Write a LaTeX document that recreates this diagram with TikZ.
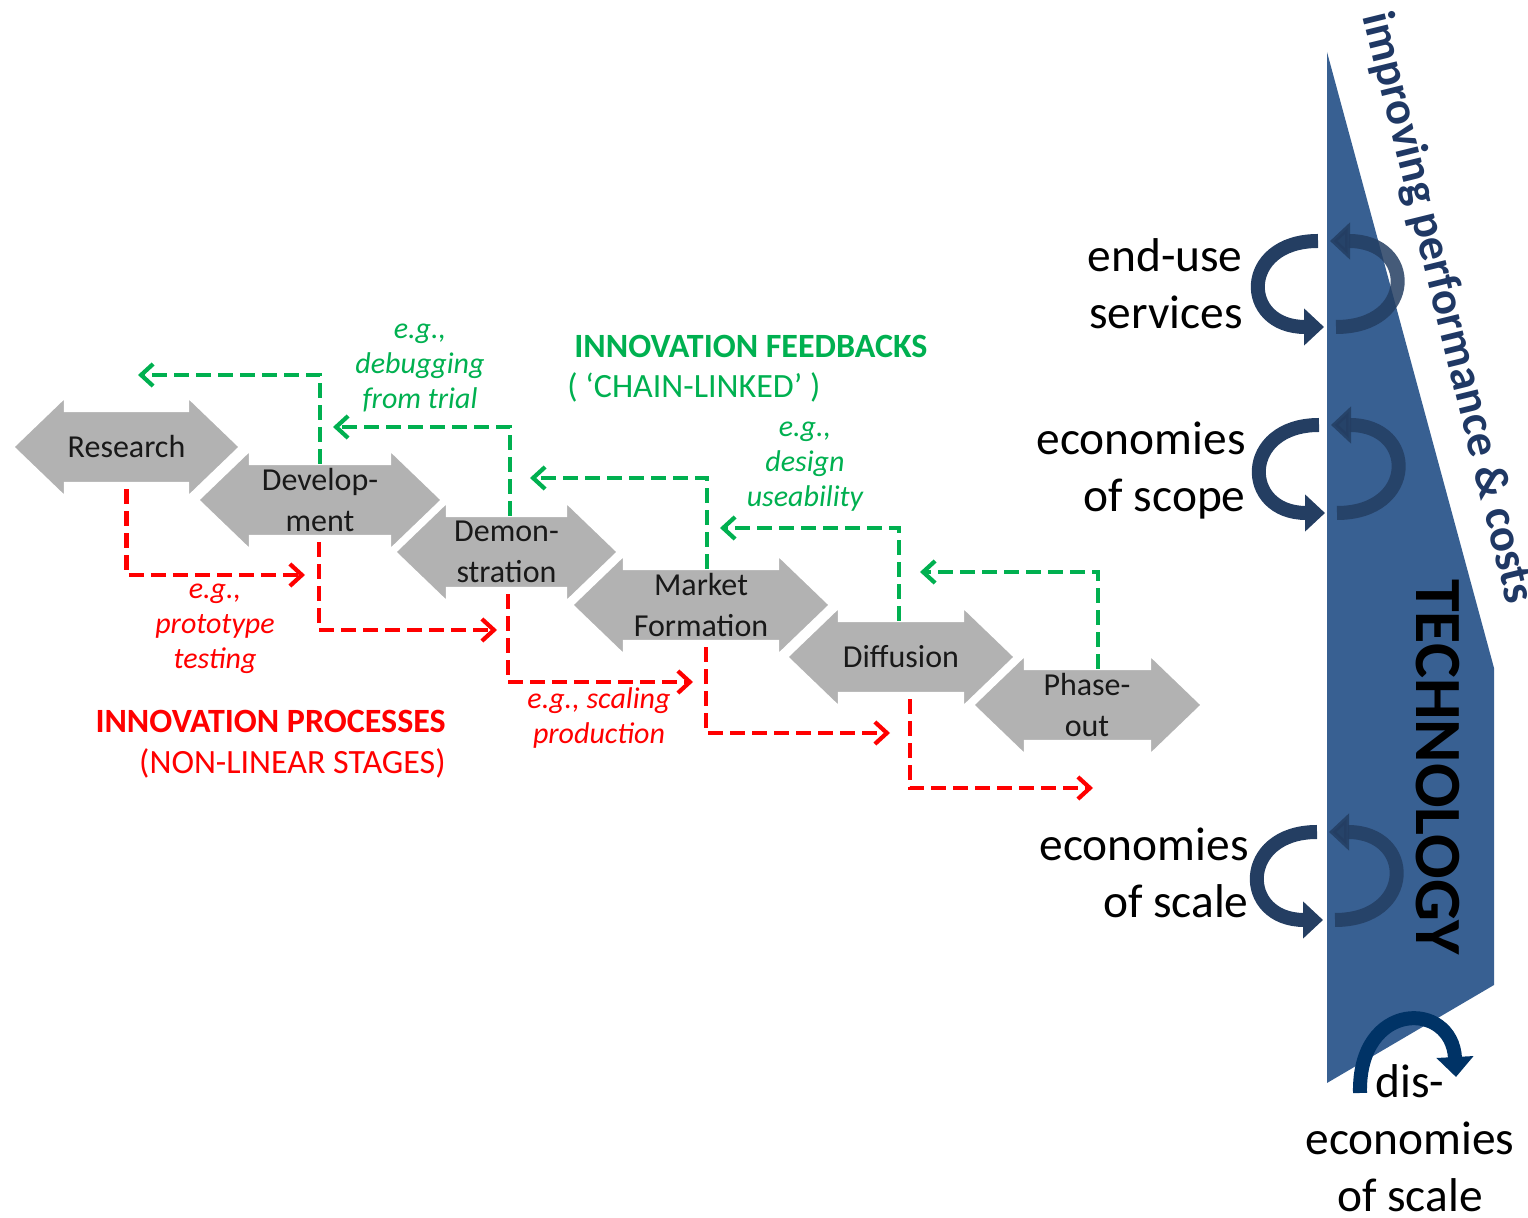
\documentclass[tikz,border=0pt]{standalone}
\usepackage{fontspec}
\setmainfont{Carlito}
\usetikzlibrary{arrows.meta}
\definecolor{stagegrey}{RGB}{178,178,178}
\definecolor{fbgreen}{RGB}{0,176,80}
\definecolor{prred}{RGB}{255,0,0}
\definecolor{techblue}{RGB}{56,96,146}
\definecolor{loopnavy}{RGB}{36,62,98}
\definecolor{disnavy}{RGB}{0,51,102}
\definecolor{impblue}{RGB}{31,56,100}
\newcommand{\stageshape}[3]{%
  \fill[stagegrey, draw=white, line width=1.2pt]
    (#1,#3) -- ({#1+52},{#3-50}) -- ({#1+52},{#3-36}) -- ({#2-52},{#3-36})
    -- ({#2-52},{#3-50}) -- (#2,#3) -- ({#2-52},{#3+50}) -- ({#2-52},{#3+36})
    -- ({#1+52},{#3+36}) -- ({#1+52},{#3+50}) -- cycle;}
\newcommand{\looppair}[3]{%
  \draw[loopribbon] ({#1-9},{#2-#3}) .. controls ({#1-87},{#2-#3}) and ({#1-87},{#2+#3}) .. ({#1-3},{#2+#3});
  \draw[loopribbon, opacity=0.85] ({#1+9},{#2+#3}) .. controls ({#1+89},{#2+#3}) and ({#1+89},{#2-#3}) .. ({#1+3},{#2-#3});}
\begin{document}
\begin{tikzpicture}[x=0.5pt,y=-0.5pt,
  stagetext/.style={font=\fontsize{16}{20.5}\selectfont, align=center, minimum height=36pt, inner sep=0pt, text=black!90},
  reddash/.style={draw=prred, line width=2.1pt, dash pattern=on 7.5pt off 3.5pt, -{Straight Barb[length=6pt,width=11pt]}},
  greendash/.style={draw=fbgreen, line width=2.1pt, dash pattern=on 7.5pt off 3.5pt, -{Straight Barb[length=6pt,width=11pt]}},
  egtext/.style={font=\itshape\fontsize{15}{17.5}\selectfont, align=center, inner sep=0pt},
  bigtext/.style={font=\fontsize{23.7}{28.5}\selectfont, inner sep=0pt},
  loopribbon/.style={draw=loopnavy, line width=7pt, -{Triangle[width=18pt,length=10pt]}},
]
\useasboundingbox (0,0) rectangle (1528,1218);

% technology band
\fill[techblue] (1327,52) -- (1494,668) -- (1494,985) -- (1327,1083) -- cycle;
\node[rotate=-90, font=\bfseries\fontsize{33}{36}\selectfont, inner sep=0pt] (tech) at (1438,767) {TECHNOLOGY};
\node[rotate=-76.2, text=impblue, font=\bfseries\fontsize{23.3}{28}\selectfont, inner sep=0pt] (imp) at (1447,308) {improving performance \& costs};

% loops
\looppair{1327}{284}{43}
\looppair{1328}{469}{44}
\looppair{1326}{876}{44}
\draw[draw=disnavy, line width=7pt, -{Triangle[width=18pt,length=10pt]}] (1360,1093) .. controls (1358,1000) and (1452,1000) .. (1456,1077);

% right texts
\node[bigtext, align=right, anchor=east] (enduse) at (1243,284) {end-use\\services};
\node[bigtext, align=right, anchor=east] (scope) at (1246,471) {economies\\of scope};
\node[bigtext, align=right, anchor=east] (scale) at (1249,873) {economies\\of scale};
\node[bigtext, align=center] (dis) at (1410,1138) {dis-\\economies\\of scale};

% stages
\stageshape{13}{240}{447}
\node[stagetext] (res) at (126.5,447) {Research};
\stageshape{198}{442}{500}
\node[stagetext] (dev) at (320,500) {Develop-\\ment};
\stageshape{395}{618}{552}
\node[stagetext] (demo) at (506.5,552) {Demon-\\stration};
\stageshape{572}{830}{605}
\node[stagetext] (mkt) at (701,605) {Market\\Formation};
\stageshape{787}{1015}{657}
\node[stagetext] (diff) at (901,657) {Diffusion};
\stageshape{973}{1202}{705}
\node[stagetext] (phase) at (1087,705) {Phase-\\out};

% arrow end coordinates
\coordinate (r1) at (305,575);
\coordinate (r2) at (497,630);
\coordinate (r3) at (693,682);
\coordinate (r4) at (890,733);
\coordinate (r5) at (1093,788);
\coordinate (g1) at (138,375);
\coordinate (g2) at (333,427);
\coordinate (g3) at (530,478);
\coordinate (g4) at (720,528);
\coordinate (g5) at (920,572);

% red process links
\draw[reddash] ([yshift=-3pt]res.south) |- (r1);
\draw[reddash] ([yshift=-3pt,xshift=-0.5pt]dev.south) |- (r2);
\draw[reddash] ([yshift=-3pt,xshift=0.75pt]demo.south) |- (r3);
\draw[reddash] ([yshift=-3pt,xshift=2.5pt]mkt.south) |- (r4);
\draw[reddash] ([yshift=-3pt,xshift=4.5pt]diff.south) |- (r5);

% green feedback links
\draw[greendash] (dev.north) |- (g1);
\draw[greendash] ([xshift=1.75pt]demo.north) |- (g2);
\draw[greendash] ([xshift=3pt]mkt.north) |- (g3);
\draw[greendash] ([xshift=-1pt]diff.north) |- (g4);
\draw[greendash] ([xshift=5.5pt]phase.north) |- (g5);

% labels
\node[egtext, text=fbgreen] (eg1) at (420,368) {e.g.,\\debugging\\from trial};
\node[egtext, text=fbgreen] (eg2) at (805,467) {e.g.,\\design\\useability};
\node[egtext, text=prred] (eg3) at (215,629) {e.g.,\\prototype\\testing};
\node[egtext, text=prred] (eg4) at (599,718) {e.g., scaling\\production};
\node[font=\bfseries\fontsize{17}{20}\selectfont, text=fbgreen, anchor=west, inner sep=0pt] (fb) at (574,346) {INNOVATION FEEDBACKS};
\node[font=\fontsize{17}{20}\selectfont, text=fbgreen, anchor=west, inner sep=0pt] (chain) at (567,387) {( ‘CHAIN-LINKED’ )};
\node[font=\bfseries\fontsize{17}{20}\selectfont, text=prred, anchor=east, inner sep=0pt] (ip) at (446,721) {INNOVATION PROCESSES};
\node[font=\fontsize{17}{20}\selectfont, text=prred, anchor=east, inner sep=0pt] (nl) at (446,763) {(NON-LINEAR STAGES)};
\end{tikzpicture}
\end{document}
